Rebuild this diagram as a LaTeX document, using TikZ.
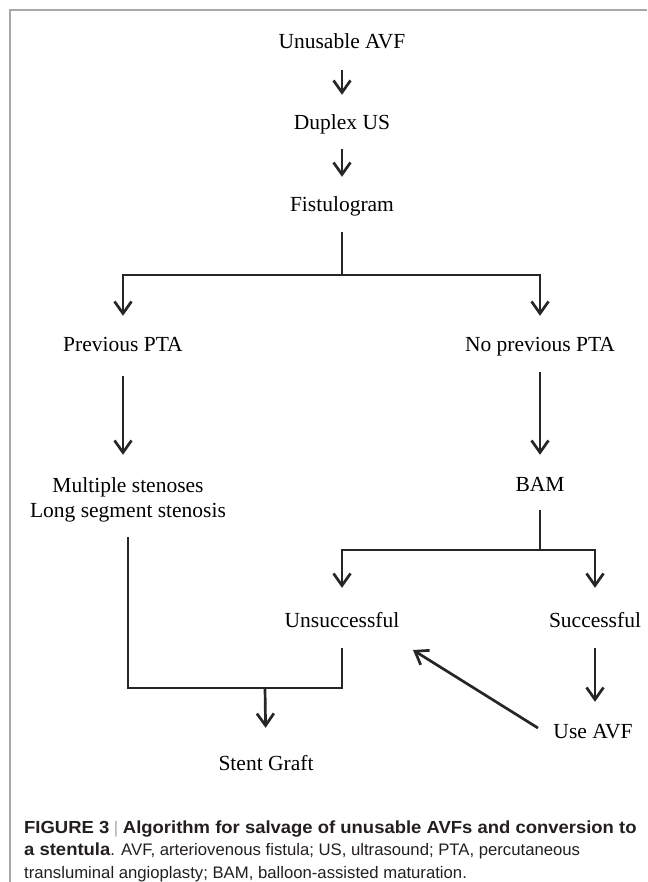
\documentclass[tikz,border=0pt]{standalone}
\usepackage{fontspec}
\setmainfont{Liberation Serif}
\newfontfamily\capfont{Liberation Sans}
\usetikzlibrary{arrows.meta}
\definecolor{framegray}{HTML}{A8A8A8}
\definecolor{captext}{HTML}{231F20}
\definecolor{linecol}{HTML}{262626}
\newcommand{\capbold}[1]{\scalebox{1.055}[1]{\fontsize{17.5}{21}\selectfont\bfseries #1}}
\begin{document}
\begin{tikzpicture}[x=1pt,y=-1pt,
  box/.style={inner sep=0pt,text height=15pt,text depth=5pt,font=\fontsize{21.5}{25}\selectfont,text=black},
  conn/.style={draw=linecol,line width=2.7pt,line join=miter},
  arr/.style={conn,-{Straight Barb[length=12pt,width=17pt]}},
  captxt/.style={anchor=base west,inner sep=0pt,text=captext,font=\capfont\fontsize{16.7}{21}\selectfont}]
\useasboundingbox (0,0) rectangle (647,882);
\draw[framegray,line width=2pt] (9.5,882) -- (9.5,10.5) -- (647,10.5);

% nodes
\node[box] (ua)  at (342,44)  {Unusable AVF};
\node[box] (dus) at (342,125) {Duplex US};
\node[box] (fg)  at (342,207) {Fistulogram};
\node[box] (pp)  at (123,346) {Previous PTA};
\node[box] (npp) at (540,346) {No previous PTA};
\node[box] (ms1) at (128,487) {Multiple stenoses};
\node[box] (ms2) at (128,512) {Long segment stenosis};
\node[box] (bam) at (540,486) {BAM};
\node[box] (uns) at (342,622) {Unsuccessful};
\node[box] (suc) at (595,622) {Successful};
\node[box] (use) at (593,733) {Use AVF};
\node[box] (sg)  at (266,765) {Stent Graft};

\coordinate (j1) at (342,275);
\coordinate (j2) at (540,550);
\coordinate (j3) at (342,688);
\coordinate (j5) at (265,688);
\coordinate (d1) at (538,728);
\coordinate (d2) at (413,650);

% connectors
\draw[arr,shorten <=16pt,shorten >=20pt] (ua) -- (dus);
\draw[arr,shorten <=14pt,shorten >=20pt] (dus) -- (fg);
\draw[conn,shorten <=15pt] (fg) -- (j1);
\draw[arr,shorten >=20pt] (j1) -| (pp);
\draw[arr,shorten >=20pt] (j1) -| (npp);
\draw[arr,shorten <=20pt,shorten >=22pt] (pp.south) -- (pp.south |- ms1.north);
\draw[arr,shorten <=16pt,shorten >=21pt] (npp) -- (bam);
\draw[conn,shorten <=14pt] (bam) -- (j2);
\draw[arr,shorten >=24pt] (j2) -| (uns);
\draw[arr,shorten >=24pt] (j2) -| (suc);
\draw[conn,shorten <=15pt,shorten >=16pt] (ms2) |- (j3) -- (uns);
\draw[arr,shorten >=27pt] (j5) -- (sg.north);
\draw[arr,shorten <=16pt,shorten >=21pt] (suc.south) -- (suc.south |- use.north);
\draw[arr] (d1) -- (d2);

% caption
\node[captxt] (c1) at (24,833) {\capbold{FIGURE 3} {\color{framegray}|} \capbold{Algorithm for salvage of unusable AVFs and conversion to}};
\node[captxt] (c2) at (24,855.5) {\capbold{a stentula}. AVF, arteriovenous fistula; US, ultrasound; PTA, percutaneous};
\node[captxt] (c3) at (24,878) {transluminal angioplasty; BAM, balloon-assisted maturation.};
\end{tikzpicture}
\end{document}
